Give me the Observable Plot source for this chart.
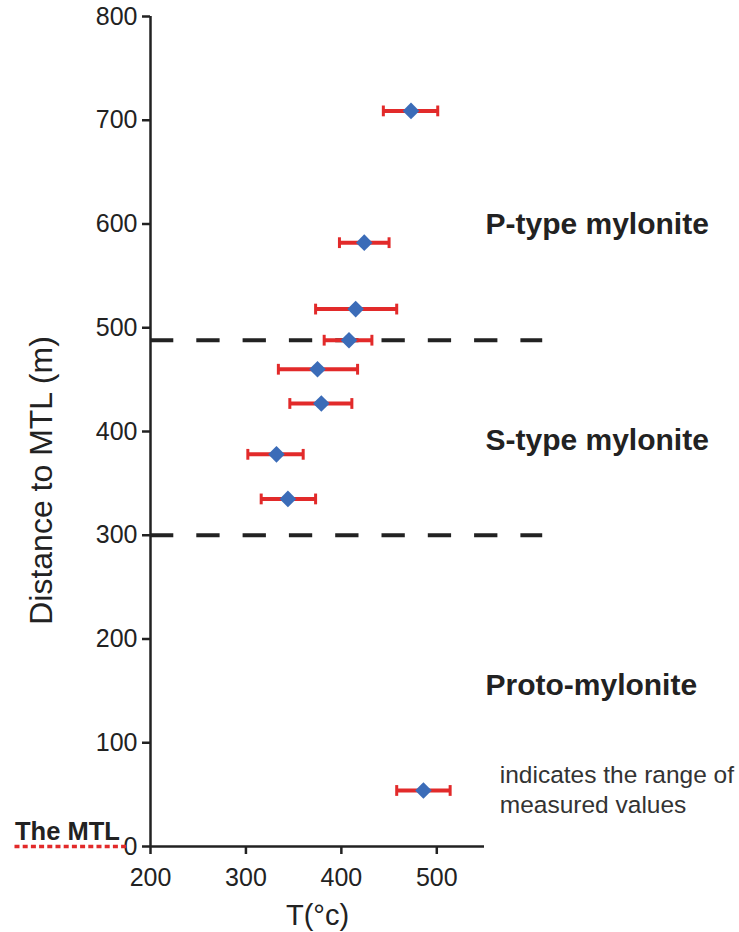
<!DOCTYPE html>
<html><head><meta charset="utf-8">
<script src="https://cdn.jsdelivr.net/npm/d3@7"></script>
<script src="https://cdn.jsdelivr.net/npm/@observablehq/plot@0.6"></script>
<style>body{margin:0;background:#fff} #chart svg{display:block}</style>
</head><body><div id="chart"></div>
<script>
// Measured temperatures (°C) and their ranges, by distance to the MTL (m)
const temperature = [473, 424, 415, 408, 375, 379, 332, 344];
const tempMin     = [444, 398, 373, 382, 334, 346, 302, 316];
const tempMax     = [501, 450, 458, 432, 417, 411, 360, 373];
const distance    = [709, 582, 518, 488, 460, 427, 378, 335];

// Legend sample symbol
const legendTemp = [486];
const legendMin = [458];
const legendMax = [514];
const legendDistance = [54];
const legendText = ["indicates the range of\nmeasured values"];

// Zone boundaries and labels
const zoneBoundaries = [300, 488];
const zoneBoundaryExtent = [200, 611];
const zoneLabels = ["P-type mylonite", "S-type mylonite", "Proto-mylonite"];
const zoneLabelDistance = [600, 391, 155];
const zoneLabelTemp = 551;
const legendTextTemp = 566;

// MTL marker
const mtlLabel = ["The MTL"];
const mtlExtent = [58, 177];

const xTicks = [200, 300, 400, 500];
const yTicks = [0, 100, 200, 300, 400, 500, 600, 700, 800];
const xDomain = [200, 550];
const yDomain = [0, 800];

const red = "#e22a2a";
const blue = "#3b6cb8";
const ink = "#222";

const samples = temperature.map((t, i) => ({t, lo: tempMin[i], hi: tempMax[i], d: distance[i]}));
const legendRows = legendTemp.map((t, i) => ({t, lo: legendMin[i], hi: legendMax[i], d: legendDistance[i]}));
const rows = samples.concat(legendRows);

const capSymbol = {
  draw(ctx, size) {
    const h = Math.sqrt(size / Math.PI);
    ctx.moveTo(0, -h);
    ctx.lineTo(0, h);
  }
};

const chart = Plot.plot({
  width: 739,
  height: 932,
  marginLeft: 150,
  marginRight: 255,
  marginTop: 16,
  marginBottom: 86,
  style: {fontFamily: "'Liberation Sans', Arial, sans-serif", background: "#fff", color: ink},
  x: {domain: xDomain, ticks: xTicks, label: null},
  y: {domain: yDomain, ticks: yTicks, label: null},
  marks: [
    Plot.axisY({ticks: yTicks, tickSize: 8, tickPadding: 5, fontSize: 25, strokeWidth: 2.5, stroke: ink, fill: ink, label: null}),
    Plot.axisX({ticks: xTicks, tickSize: 8, tickPadding: 14, fontSize: 25, strokeWidth: 2.5, stroke: ink, fill: ink, label: null}),
    Plot.ruleX([xDomain[0]], {stroke: ink, strokeWidth: 2.5}),
    Plot.ruleY([yDomain[0]], {stroke: ink, strokeWidth: 2.5}),
    // zone boundaries
    Plot.ruleY(zoneBoundaries, {y: d => d, x1: zoneBoundaryExtent[0], x2: zoneBoundaryExtent[1], stroke: ink, strokeWidth: 4, strokeDasharray: "23.3,23"}),
    // MTL dotted line
    Plot.ruleY([0], {x1: mtlExtent[0], x2: mtlExtent[1], stroke: red, strokeWidth: 3.5, strokeDasharray: "5,3.2"}),
    Plot.text(mtlLabel, {x: mtlExtent[0], y: 0, text: d => d, textAnchor: "start", lineAnchor: "bottom", dy: -7, fontSize: 25.5, fontWeight: "bold", fill: ink}),
    // error bars
    Plot.ruleY(rows, {y: "d", x1: "lo", x2: "hi", stroke: red, strokeWidth: 4}),
    Plot.dot(rows, {x: "lo", y: "d", symbol: capSymbol, r: 5.4, stroke: red, strokeWidth: 3, fill: "none"}),
    Plot.dot(rows, {x: "hi", y: "d", symbol: capSymbol, r: 5.4, stroke: red, strokeWidth: 3, fill: "none"}),
    Plot.dot(rows, {x: "t", y: "d", symbol: "diamond2", r: 7.5, fill: blue, stroke: "none"}),
    // zone labels
    Plot.text(zoneLabels, {x: zoneLabelTemp, y: (d, i) => zoneLabelDistance[i], text: d => d, textAnchor: "start", lineAnchor: "middle", fontSize: 30, fontWeight: "bold", fill: ink}),
    // legend text
    Plot.text(legendText, {x: legendTextTemp, y: legendDistance[0], text: d => d, textAnchor: "start", lineAnchor: "middle", lineHeight: 1.2, dy: -2, fontSize: 24.5, fill: "#333"}),
    // axis titles
    Plot.text(["T(°c)"], {frameAnchor: "bottom", text: d => d, textAnchor: "middle", lineAnchor: "bottom", dy: 78.5, fontSize: 29, fill: ink}),
    Plot.text(["Distance to MTL (m)"], {frameAnchor: "left", text: d => d, rotate: -90, textAnchor: "middle", lineAnchor: "middle", dx: -109.2, dy: 49, fontSize: 32, fill: ink})
  ]
});
document.getElementById("chart").appendChild(chart);
</script>
</body></html>
